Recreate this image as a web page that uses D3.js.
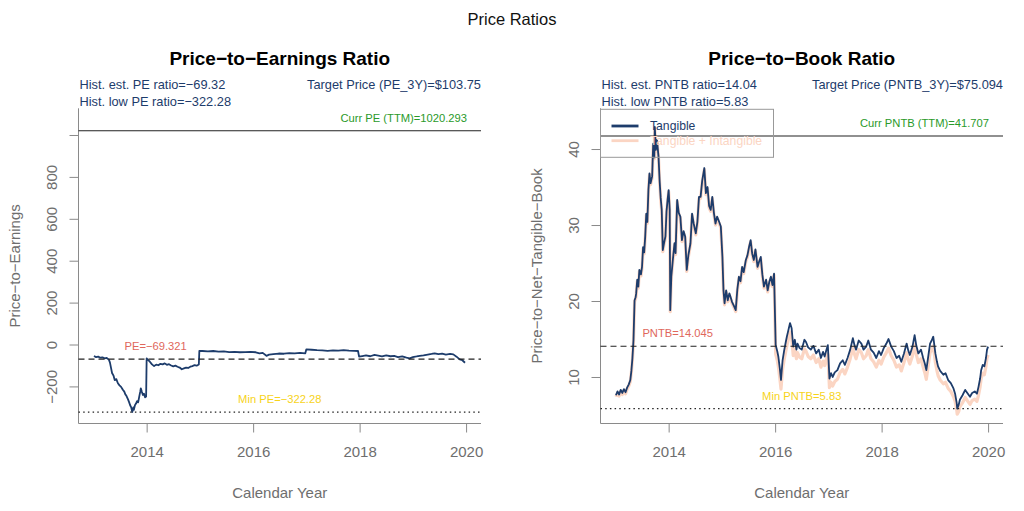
<!DOCTYPE html>
<html>
<head>
<meta charset="utf-8">
<script src="https://cdn.jsdelivr.net/npm/d3@7"></script>
<style>
  html, body { margin: 0; padding: 0; background: #ffffff; }
  svg { display: block; font-family: "Liberation Sans", Arial, Helvetica, sans-serif; }
</style>
</head>
<body>
<svg id="chart" width="1024" height="511"></svg>
<script>
// ---------------- DATA ----------------
const xTicks = [2014, 2016, 2018, 2020];
const peTicks = [-200, 0, 200, 400, 600, 800, 1000];
const peTickLabels = ["\u2212200", "0", "200", "400", "600", "800", ""];
const pntbTicks = [10, 20, 30, 40];
const pntbTickLabels = ["10", "20", "30", "40"];

const peYears = [2013.01,2013.05,2013.09,2013.13,2013.17,2013.21,2013.25,2013.29,2013.31,2013.33,2013.35,2013.38,2013.40,2013.43,2013.46,2013.49,2013.52,2013.55,2013.58,2013.60,2013.62,2013.65,2013.67,2013.69,2013.71,2013.73,2013.75,2013.76,2013.78,2013.80,2013.82,2013.84,2013.86,2013.88,2013.89,2013.91,2013.93,2013.95,2013.97,2013.99,2014.00,2014.03,2014.06,2014.10,2014.14,2014.18,2014.22,2014.26,2014.30,2014.34,2014.38,2014.42,2014.46,2014.50,2014.54,2014.58,2014.62,2014.66,2014.70,2014.74,2014.78,2014.82,2014.86,2014.90,2014.94,2014.98,2014.99,2015.05,2015.15,2015.25,2015.35,2015.45,2015.55,2015.65,2015.75,2015.85,2015.95,2016.05,2016.12,2016.18,2016.25,2016.30,2016.38,2016.48,2016.58,2016.68,2016.78,2016.88,2016.98,2017.00,2017.10,2017.20,2017.30,2017.40,2017.50,2017.60,2017.70,2017.80,2017.90,2017.97,2017.99,2018.05,2018.12,2018.20,2018.28,2018.35,2018.42,2018.50,2018.58,2018.65,2018.72,2018.80,2018.88,2018.94,2019.00,2019.07,2019.13,2019.20,2019.28,2019.35,2019.41,2019.48,2019.55,2019.62,2019.70,2019.76,2019.82,2019.88,2019.93,2019.98];
const peValues = [-55,-60,-58,-63,-61,-66,-64,-72,-85,-110,-136,-150,-170,-165,-185,-195,-202,-215,-225,-238,-245,-262,-275,-290,-300,-322,-300,-312,-290,-282,-270,-276,-250,-225,-209,-226,-241,-235,-252,-248,-66,-74,-82,-95,-103,-96,-99,-92,-95,-90,-97,-94,-100,-104,-101,-106,-110,-118,-114,-110,-112,-106,-103,-98,-101,-95,-30,-31,-33,-31,-34,-33,-36,-35,-37,-36,-35,-37,-42,-40,-54,-48,-46,-43,-44,-41,-42,-40,-42,-23,-25,-27,-28,-30,-28,-29,-27,-29,-30,-31,-58,-55,-52,-56,-50,-53,-57,-52,-56,-54,-60,-57,-63,-66,-60,-57,-54,-52,-48,-45,-42,-46,-44,-48,-45,-47,-58,-71,-75,-87];

const pntbYears = [2013.01,2013.04,2013.07,2013.10,2013.13,2013.16,2013.19,2013.22,2013.25,2013.28,2013.30,2013.32,2013.34,2013.36,2013.38,2013.39,2013.41,2013.43,2013.45,2013.48,2013.50,2013.52,2013.54,2013.56,2013.58,2013.60,2013.62,2013.64,2013.66,2013.69,2013.71,2013.73,2013.74,2013.76,2013.78,2013.81,2013.83,2013.85,2013.87,2013.89,2013.91,2013.94,2013.96,2013.98,2014.00,2014.02,2014.03,2014.05,2014.08,2014.11,2014.13,2014.16,2014.19,2014.22,2014.25,2014.28,2014.31,2014.34,2014.37,2014.41,2014.44,2014.47,2014.51,2014.54,2014.57,2014.60,2014.63,2014.67,2014.70,2014.73,2014.76,2014.79,2014.82,2014.85,2014.88,2014.91,2014.95,2014.98,2015.01,2015.03,2015.05,2015.08,2015.11,2015.14,2015.16,2015.19,2015.23,2015.26,2015.29,2015.32,2015.35,2015.38,2015.41,2015.45,2015.48,2015.51,2015.54,2015.57,2015.60,2015.63,2015.67,2015.70,2015.73,2015.76,2015.79,2015.83,2015.86,2015.89,2015.92,2015.95,2015.98,2016.01,2016.04,2016.06,2016.09,2016.11,2016.14,2016.17,2016.20,2016.22,2016.25,2016.28,2016.31,2016.34,2016.37,2016.40,2016.42,2016.46,2016.50,2016.55,2016.58,2016.62,2016.67,2016.72,2016.77,2016.82,2016.86,2016.90,2016.93,2016.96,2016.99,2017.02,2017.05,2017.08,2017.12,2017.17,2017.22,2017.27,2017.31,2017.36,2017.41,2017.46,2017.49,2017.52,2017.57,2017.62,2017.66,2017.71,2017.75,2017.80,2017.85,2017.90,2017.95,2017.99,2018.04,2018.09,2018.13,2018.18,2018.23,2018.28,2018.33,2018.37,2018.42,2018.47,2018.50,2018.53,2018.58,2018.62,2018.65,2018.69,2018.74,2018.78,2018.81,2018.84,2018.88,2018.91,2018.94,2018.97,2019.01,2019.04,2019.06,2019.10,2019.16,2019.20,2019.25,2019.30,2019.35,2019.38,2019.41,2019.42,2019.45,2019.47,2019.52,2019.57,2019.62,2019.66,2019.70,2019.75,2019.79,2019.82,2019.85,2019.87,2019.90,2019.93,2019.96,2019.98,2020.00];
const pntbTangible = [7.6,8.1,7.7,8.3,7.9,8.4,8.0,8.6,9.0,9.6,10.8,12.5,14.9,20.1,20.5,21.0,22.8,21.9,24.1,23.5,24.5,27.1,26.4,28.5,31.5,30.4,34.6,36.8,35.5,36.4,40.7,38.9,42.9,39.9,41.2,39.0,35.9,33.6,32.0,26.7,27.5,28.5,31.8,33.3,34.6,32.0,18.8,23.2,25.5,27.6,26.3,33.3,31.6,31.1,28.0,29.2,28.5,24.1,26.0,27.6,31.5,30.2,28.9,30.4,33.7,33.7,35.8,37.5,34.2,35.0,32.5,32.0,33.7,31.6,30.2,31.1,30.4,29.8,25.8,21.4,19.7,21.4,20.1,21.0,20.6,19.9,19.3,18.8,21.5,23.2,22.6,24.5,23.8,25.4,26.0,27.1,28.0,26.2,25.4,26.8,24.5,25.2,25.8,23.5,21.9,22.8,21.4,22.5,23.2,22.1,23.6,14.2,13.4,12.7,11.0,9.6,12.2,13.5,14.6,15.3,16.2,17.1,16.4,14.0,14.9,13.6,14.4,13.8,13.6,14.9,14.6,13.9,13.6,14.1,13.1,13.6,12.5,13.3,12.7,13.5,14.2,9.8,10.5,10.0,10.6,10.9,11.8,12.2,11.6,12.5,13.6,15.1,14.2,13.6,14.8,14.4,13.6,14.0,14.8,13.6,13.2,12.5,13.4,12.9,13.8,14.4,15.0,14.0,13.4,12.5,12.8,12.0,13.1,14.4,13.5,12.9,14.0,15.5,14.2,13.1,13.6,12.5,11.8,10.9,12.9,14.4,14.8,15.3,13.1,12.0,11.4,10.8,10.3,10.5,9.6,9.2,8.5,7.8,6.6,5.83,6.4,7.0,7.6,8.3,7.8,7.4,7.9,8.1,7.8,8.7,9.8,10.9,11.6,11.4,12.5,13.6,14.0];
const pntbIntangible = [7.4,7.9,7.5,8.1,7.7,8.2,7.8,8.4,8.8,9.4,10.6,12.3,14.7,19.9,20.3,20.8,22.6,21.7,23.9,23.3,24.3,26.9,26.2,28.3,31.3,30.2,34.4,36.6,35.3,36.2,40.5,38.7,42.7,39.7,41.0,38.8,35.7,33.4,31.8,26.5,27.3,28.3,31.6,33.1,34.4,31.8,18.6,23.0,25.3,27.4,26.1,33.1,31.4,30.9,27.8,29.0,28.3,23.9,25.8,27.4,31.3,30.0,28.7,30.2,33.5,33.5,35.6,37.3,34.0,34.8,32.3,31.8,33.5,31.4,30.0,30.9,30.2,29.6,25.6,21.2,19.5,21.2,19.9,20.8,20.4,19.7,19.1,18.6,21.3,23.0,22.4,24.3,23.6,25.2,25.8,26.9,27.8,26.0,25.2,26.6,24.3,25.0,25.6,23.3,21.7,22.6,21.2,22.3,23.0,21.9,23.4,13.0,12.2,11.4,9.7,8.4,11.0,12.3,13.4,14.1,15.0,15.9,15.2,12.8,13.7,12.4,13.2,12.6,12.4,13.7,13.4,12.7,12.4,12.9,11.9,12.4,11.3,12.1,11.5,12.3,13.0,8.6,9.3,8.8,9.4,9.7,10.6,11.0,10.4,11.3,12.4,13.9,13.0,12.4,13.6,13.2,12.4,12.8,13.6,12.4,12.0,11.3,12.2,11.7,12.6,13.2,13.8,12.8,12.2,11.3,11.6,10.8,11.9,13.2,12.3,11.7,12.8,14.3,13.0,11.9,12.4,11.3,10.6,9.7,11.7,13.2,13.6,14.1,11.9,10.8,10.2,9.6,9.1,9.3,8.5,8.1,7.4,6.8,5.7,5.1,5.5,6.1,6.6,7.3,6.8,6.4,6.9,7.1,6.8,7.6,8.7,9.8,10.5,10.3,11.4,12.5,12.9];

const peRef = { curr: 1020.293, est: -69.321, min: -322.28 };
const pntbRef = { curr: 41.707, est: 14.045, min: 5.83 };

// ---------------- LAYOUT ----------------
const svg = d3.select("#chart");
const C = {
  navy: "#1d3c6b", peach: "#fbd5c3", green: "#2a9a2a", red: "#e0675c", gold: "#f7d31a",
  axis: "#8a8a8a", axisText: "#6e6e6e", black: "#222222"
};
const plotTop = 108.3, plotBottom = 423.5;

svg.append("text").attr("x", 512).attr("y", 19).attr("text-anchor", "middle")
  .attr("dominant-baseline", "central").attr("font-size", 16.5).attr("fill", "#111")
  .text("Price Ratios");

function drawPanel(cfg) {
  const x = d3.scaleLinear().domain([2012.72, 2020.28]).range([cfg.x0, cfg.x1]);
  const y = d3.scaleLinear().domain(cfg.yDomain).range([plotBottom, plotTop]);
  const g = svg.append("g");
  const cx = (cfg.x0 + cfg.x1) / 2;

  g.append("text").attr("x", cx).attr("y", 58.5).attr("text-anchor", "middle")
    .attr("dominant-baseline", "central").attr("font-size", 19).attr("font-weight", "bold")
    .attr("fill", "#000").text(cfg.title);

  g.append("text").attr("x", cfg.x0 + 1).attr("y", 84.5).attr("dominant-baseline", "central")
    .attr("font-size", 12.8).attr("fill", C.navy).text(cfg.histEst);
  g.append("text").attr("x", cfg.x0 + 1).attr("y", 101).attr("dominant-baseline", "central")
    .attr("font-size", 12.8).attr("fill", C.navy).text(cfg.histLow);
  g.append("text").attr("x", cfg.x1).attr("y", 84.5).attr("text-anchor", "end")
    .attr("dominant-baseline", "central").attr("font-size", 12.8).attr("fill", C.navy).text(cfg.target);

  g.append("line").attr("x1", cfg.x0).attr("x2", cfg.x0).attr("y1", plotTop).attr("y2", plotBottom)
    .attr("stroke", C.axis).attr("stroke-width", 1);
  g.append("line").attr("x1", cfg.x0).attr("x2", cfg.x1).attr("y1", plotBottom).attr("y2", plotBottom)
    .attr("stroke", C.axis).attr("stroke-width", 1);

  const yAxis = d3.axisLeft(y).tickValues(cfg.yTicks).tickSize(9).tickSizeOuter(0)
    .tickFormat((d, i) => cfg.yTickLabels[i]);
  const ya = g.append("g").attr("transform", `translate(${cfg.x0},0)`).call(yAxis);
  ya.select(".domain").remove();
  ya.selectAll(".tick line").attr("stroke", C.axis);
  ya.selectAll(".tick text").attr("font-size", 15).attr("fill", C.axisText)
    .attr("font-family", "Liberation Sans, Arial, sans-serif")
    .attr("x", null).attr("dy", null)
    .attr("text-anchor", "middle").attr("dominant-baseline", "central")
    .attr("transform", "translate(-27,0) rotate(-90)");

  const xAxis = d3.axisBottom(x).tickValues(xTicks).tickSize(9).tickSizeOuter(0).tickFormat(d3.format("d"));
  const xa = g.append("g").attr("transform", `translate(0,${plotBottom})`).call(xAxis);
  xa.select(".domain").remove();
  xa.selectAll(".tick line").attr("stroke", C.axis);
  xa.selectAll(".tick text").attr("font-size", 15).attr("fill", C.axisText)
    .attr("font-family", "Liberation Sans, Arial, sans-serif")
    .attr("y", 28).attr("dy", null).attr("dominant-baseline", "central");

  g.append("text").attr("x", cx).attr("y", 492).attr("text-anchor", "middle")
    .attr("dominant-baseline", "central").attr("font-size", 15).attr("fill", C.axisText)
    .text("Calendar Year");
  g.append("text").attr("transform", `translate(${cfg.x0 - 64},${(plotTop + plotBottom) / 2}) rotate(-90)`)
    .attr("text-anchor", "middle").attr("dominant-baseline", "central")
    .attr("font-size", 15).attr("fill", C.axisText).text(cfg.yTitle);

  const line = d3.line().x(d => x(d[0])).y(d => y(d[1]));
  cfg.series.forEach(s => {
    g.append("path").datum(d3.zip(s.years, s.values)).attr("d", line)
      .attr("fill", "none").attr("stroke", s.color).attr("stroke-width", s.width)
      .attr("stroke-linejoin", "round");
  });

  const hline = (v, dash, w) => g.append("line").attr("x1", cfg.x0).attr("x2", cfg.x1)
    .attr("y1", y(v)).attr("y2", y(v)).attr("stroke", C.black).attr("stroke-width", w)
    .attr("stroke-dasharray", dash);
  hline(cfg.ref.curr, null, 1.1);
  hline(cfg.ref.est, "6,4", 1.2);
  hline(cfg.ref.min, "1.5,3.2", 1.3);

  g.append("text").attr("x", cfg.x1 - 14).attr("y", y(cfg.ref.curr) - 13).attr("text-anchor", "end")
    .attr("dominant-baseline", "central").attr("font-size", 11.2).attr("fill", C.green).text(cfg.currLabel);
  g.append("text").attr("x", x(2014.17)).attr("y", y(cfg.ref.est) - 13).attr("text-anchor", "middle")
    .attr("dominant-baseline", "central").attr("font-size", 11.2).attr("fill", C.red).text(cfg.estLabel);
  g.append("text").attr("x", cx).attr("y", y(cfg.ref.min) - 13).attr("text-anchor", "middle")
    .attr("dominant-baseline", "central").attr("font-size", 11.2).attr("fill", C.gold).text(cfg.minLabel);

  if (cfg.legend) {
    const lg = g.append("g");
    lg.append("rect").attr("x", cfg.x0).attr("y", 109.3).attr("width", 173).attr("height", 48)
      .attr("fill", "none").attr("stroke", "#999").attr("stroke-width", 1);
    cfg.legend.forEach((it, i) => {
      const yy = 126 + i * 14.7;
      lg.append("line").attr("x1", cfg.x0 + 11).attr("x2", cfg.x0 + 38).attr("y1", yy).attr("y2", yy)
        .attr("stroke", it.color).attr("stroke-width", 2.8);
      lg.append("text").attr("x", cfg.x0 + 49.5).attr("y", yy).attr("dominant-baseline", "central")
        .attr("font-size", 12.2).attr("fill", it.color).text(it.label);
    });
  }
}

drawPanel({
  x0: 78.5, x1: 481, yDomain: [-377, 1127.4], yTicks: peTicks, yTickLabels: peTickLabels,
  title: "Price\u2212to\u2212Earnings Ratio",
  histEst: "Hist. est. PE ratio=\u221269.32", histLow: "Hist. low PE ratio=\u2212322.28",
  target: "Target Price (PE_3Y)=$103.75", yTitle: "Price\u2212to\u2212Earnings",
  series: [{ years: peYears, values: peValues, color: C.navy, width: 1.8 }],
  ref: peRef, currLabel: "Curr PE (TTM)=1020.293", estLabel: "PE=\u221269.321", minLabel: "Min PE=\u2212322.28"
});

drawPanel({
  x0: 600.5, x1: 1003, yDomain: [3.88, 45.36], yTicks: pntbTicks, yTickLabels: pntbTickLabels,
  title: "Price\u2212to\u2212Book Ratio",
  histEst: "Hist. est. PNTB ratio=14.04", histLow: "Hist. low PNTB ratio=5.83",
  target: "Target Price (PNTB_3Y)=$75.094", yTitle: "Price\u2212to\u2212Net\u2212Tangible\u2212Book",
  series: [
    { years: pntbYears, values: pntbIntangible, color: C.peach, width: 3.2 },
    { years: pntbYears, values: pntbTangible, color: C.navy, width: 1.8 }
  ],
  ref: pntbRef, currLabel: "Curr PNTB (TTM)=41.707", estLabel: "PNTB=14.045", minLabel: "Min PNTB=5.83",
  legend: [{ label: "Tangible", color: C.navy }, { label: "Tangible + Intangible", color: C.peach }]
});
</script>
</body>
</html>
